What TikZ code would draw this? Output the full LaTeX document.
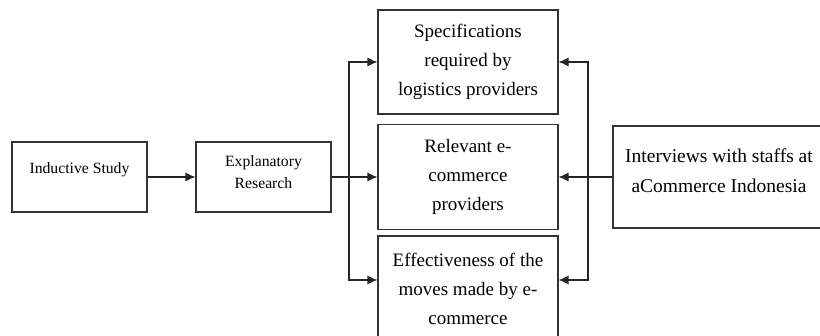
\documentclass[tikz,border=0pt]{standalone}
\usepackage{fontspec}
\setmainfont{Liberation Serif}
\usetikzlibrary{arrows.meta}

\begin{document}
\begin{tikzpicture}[x=1pt, y=-1pt,
		box/.style={draw=black!80, line width=1.1pt, align=center, inner sep=2pt},
		smallbox/.style={box, minimum width=135pt, minimum height=70pt, font=\fontsize{15.7}{22}\selectfont},
		bigbox/.style={box, minimum width=180pt, minimum height=105pt, font=\fontsize{19}{29}\selectfont},
		arr/.style={draw=black!85, line width=1.1pt, -{Latex[length=10pt,width=9pt]}}]
		%%%%% START %%%%%
		
		\clip (0, 0) rectangle (820, 336);
		
		\node[smallbox, text depth=18pt] (ind) at (79.5, 177) {Inductive Study};
		\node[smallbox, text depth=10pt] (exp) at (263.5, 177) {Explanatory\\Research};
		
		\node[bigbox, minimum height=104pt] (spec) at (468, 62) {Specifications\\required by\\logistics providers};
		\node[bigbox] (rel) at (468, 177) {Relevant e-\\commerce\\providers};
		\node[bigbox, minimum height=106pt] (eff) at (468, 289) {Effectiveness of the\\moves made by e-\\commerce};
		
		\node[bigbox, minimum width=212pt, minimum height=102pt, text depth=12pt, font=\fontsize{19.5}{30}\selectfont] (intv) at (719, 177) {Interviews with staffs at\\aCommerce Indonesia};
		
		\coordinate (split) at (349, 177);
		\coordinate (join) at (588, 177);
		
		\draw[arr] (ind) -- (exp);
		\draw[arr] (exp) -- (rel);
		\draw[arr] (split) |- (spec.west);
		\draw[arr] (split) |- ([yshift=9pt]eff.west);
		
		\draw[arr] (intv) -- (rel);
		\draw[arr] (join) |- (spec.east);
		\draw[arr] (join) |- ([yshift=9pt]eff.east);
		
		%%%%% END %%%%%
	\end{tikzpicture}
\end{document}
